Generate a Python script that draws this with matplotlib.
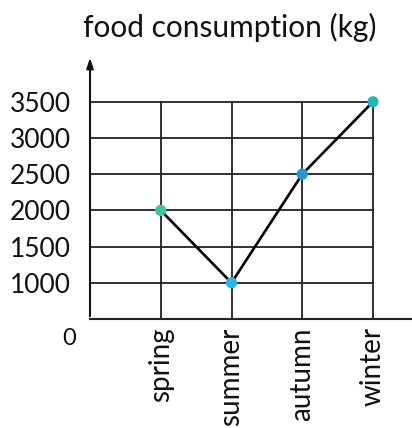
import matplotlib.pyplot as plt

seasons = ["spring", "summer", "autumn", "winter"]
consumption = [2000, 1000, 2500, 3500]
marker_colors = ["#3cc98e", "#2fb4e6", "#1f9ad6", "#22b9b4"]
y_ticks = [1000, 1500, 2000, 2500, 3000, 3500]

plt.rcParams["font.family"] = ["Lato", "DejaVu Sans"]

fig = plt.figure(figsize=(4.12, 4.28), dpi=100)
ax = fig.add_axes([90 / 412, 109 / 428, 322 / 412, 264 / 428])
ax.set_xlim(0, 322 / 70.75)
ax.set_ylim(500, 4146)
for s in ax.spines.values():
    s.set_visible(False)

x = list(range(1, len(seasons) + 1))

# grid
for v in y_ticks:
    ax.plot([0, len(seasons)], [v, v], color="#222222", lw=1.3, zorder=1)
for xi in x:
    ax.plot([xi, xi], [500, y_ticks[-1]], color="#222222", lw=1.3, zorder=1)

# axes
ax.plot([0, 322 / 70.75], [500, 500], color="#222222", lw=1.5, clip_on=False)
ax.annotate("", xy=(0, 4146), xytext=(0, 500),
            arrowprops=dict(arrowstyle="-|>,head_width=0.2,head_length=0.6",
                            color="#111111", lw=1.5), annotation_clip=False)

# data
ax.plot(x, consumption, color="black", lw=1.9, zorder=3)
ax.scatter(x, consumption, c=marker_colors, s=50, zorder=4)

ax.set_xticks(x)
ax.set_xticklabels(seasons, rotation=90, va="top")
ax.set_yticks(y_ticks)
ax.tick_params(length=0, labelsize=19, colors="#111111")
ax.tick_params(axis="x", labelsize=20, pad=6)
ax.tick_params(axis="y", pad=14)

ax.text(-0.2, 370, "0", ha="right", va="top", fontsize=17, color="#111111")
fig.text(0.558, 0.935, "food consumption (kg)", ha="center", va="center",
         fontsize=21.5, color="#111111")

fig.savefig("out.png", dpi=100)
